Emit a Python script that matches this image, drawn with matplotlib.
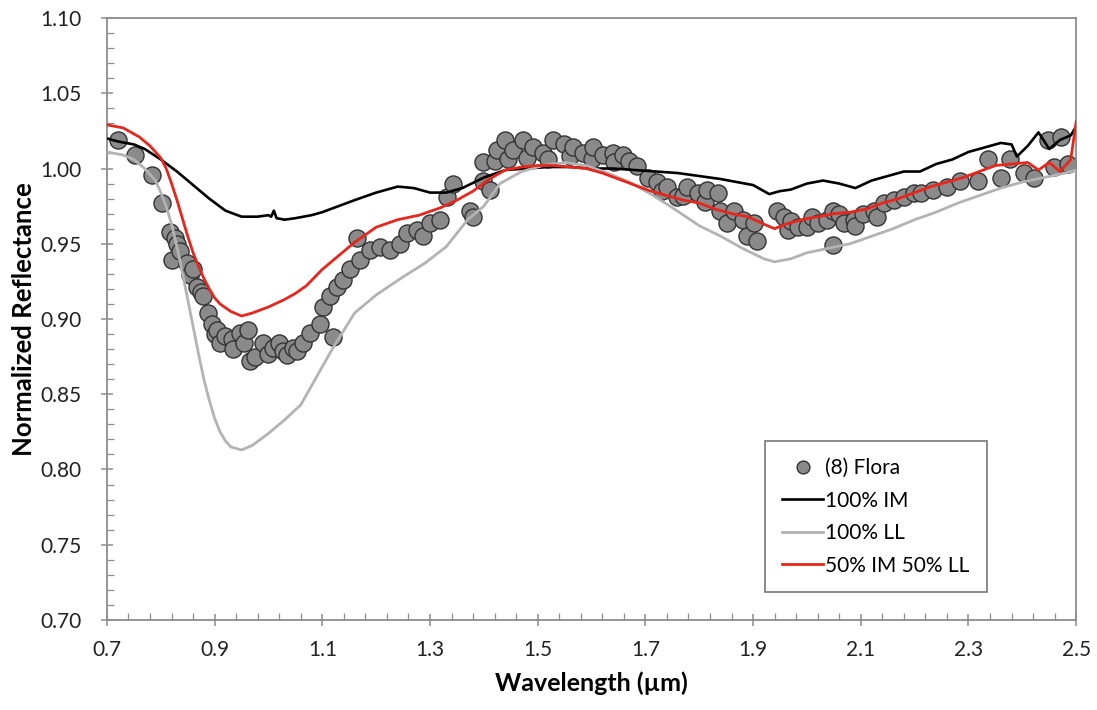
import matplotlib
matplotlib.use('Agg')
import matplotlib.pyplot as plt
from matplotlib.ticker import MultipleLocator, FormatStrFormatter

plt.rcParams['font.family'] = ['Lato', 'DejaVu Sans']

# (8) Flora spectrum, sampled points
flora_wl = [0.720, 0.752, 0.784, 0.802, 0.817, 0.826, 0.821, 0.830, 0.836, 0.849,
            0.854, 0.860, 0.867, 0.875, 0.878, 0.888, 0.895, 0.900, 0.904, 0.910,
            0.919, 0.932, 0.935, 0.947, 0.955, 0.962, 0.965, 0.975, 0.990, 1.000,
            1.009, 1.020, 1.027, 1.035, 1.046, 1.053, 1.065, 1.077, 1.096, 1.120,
            1.101, 1.114, 1.127, 1.138, 1.152, 1.165, 1.170, 1.189, 1.207, 1.226,
            1.245, 1.258, 1.276, 1.287, 1.300, 1.319, 1.332, 1.343, 1.375, 1.380,
            1.399, 1.399, 1.412, 1.420, 1.425, 1.440, 1.445, 1.455, 1.473, 1.480,
            1.492, 1.510, 1.520, 1.529, 1.548, 1.560, 1.566, 1.585, 1.600, 1.603,
            1.622, 1.640, 1.641, 1.659, 1.670, 1.685, 1.704, 1.722, 1.730, 1.741,
            1.759, 1.770, 1.778, 1.797, 1.810, 1.815, 1.834, 1.839, 1.852, 1.864,
            1.882, 1.889, 1.901, 1.908, 1.945, 1.957, 1.964, 1.970, 1.983, 2.001,
            2.010, 2.020, 2.038, 2.049, 2.049, 2.060, 2.068, 2.087, 2.090, 2.105,
            2.124, 2.130, 2.143, 2.161, 2.180, 2.198, 2.211, 2.235, 2.261, 2.285,
            2.317, 2.336, 2.360, 2.378, 2.403, 2.421, 2.447, 2.458, 2.471, 2.484]
flora_refl = [1.019, 1.009, 0.996, 0.977, 0.958, 0.954, 0.939, 0.950, 0.945, 0.937,
              0.929, 0.933, 0.921, 0.918, 0.915, 0.904, 0.897, 0.890, 0.893, 0.884,
              0.889, 0.887, 0.880, 0.891, 0.884, 0.893, 0.872, 0.875, 0.884, 0.877,
              0.881, 0.884, 0.879, 0.876, 0.881, 0.879, 0.884, 0.891, 0.897, 0.888,
              0.908, 0.915, 0.921, 0.926, 0.933, 0.954, 0.939, 0.946, 0.948, 0.946,
              0.950, 0.957, 0.959, 0.955, 0.964, 0.966, 0.981, 0.990, 0.972, 0.968,
              1.004, 0.992, 0.986, 1.005, 1.012, 1.019, 1.006, 1.012, 1.019, 1.007,
              1.014, 1.010, 1.006, 1.019, 1.016, 1.008, 1.014, 1.010, 1.006, 1.014,
              1.009, 1.010, 1.004, 1.009, 1.005, 1.002, 0.994, 0.991, 0.985, 0.988,
              0.981, 0.982, 0.988, 0.984, 0.978, 0.986, 0.984, 0.972, 0.964, 0.972,
              0.966, 0.955, 0.964, 0.952, 0.972, 0.968, 0.959, 0.965, 0.961, 0.961,
              0.968, 0.964, 0.966, 0.972, 0.949, 0.970, 0.964, 0.966, 0.962, 0.970,
              0.972, 0.968, 0.977, 0.979, 0.981, 0.984, 0.984, 0.986, 0.988, 0.992,
              0.992, 1.006, 0.994, 1.006, 0.997, 0.994, 1.019, 1.001, 1.021, 1.003]

# 100% IM
im_wl = [0.70, 0.72, 0.75, 0.77, 0.80, 0.83, 0.86, 0.89, 0.92, 0.95, 0.98, 1.00,
         1.005, 1.01, 1.015, 1.03, 1.05, 1.08, 1.10, 1.13, 1.16, 1.20, 1.24, 1.27,
         1.30, 1.33, 1.36, 1.40, 1.44, 1.48, 1.52, 1.56, 1.60, 1.64, 1.68, 1.72,
         1.76, 1.80, 1.84, 1.87, 1.90, 1.93, 1.95, 1.97, 2.00, 2.03, 2.06, 2.09,
         2.12, 2.15, 2.18, 2.21, 2.24, 2.27, 2.30, 2.33, 2.36, 2.38, 2.39, 2.41,
         2.43, 2.45, 2.47, 2.49, 2.50]
im_refl = [1.020, 1.018, 1.016, 1.013, 1.006, 0.998, 0.989, 0.980, 0.972, 0.968,
           0.968, 0.969, 0.968, 0.972, 0.967, 0.966, 0.967, 0.969, 0.971, 0.975,
           0.979, 0.984, 0.988, 0.987, 0.984, 0.984, 0.987, 0.994, 0.999, 1.000,
           1.001, 1.001, 1.000, 1.000, 0.999, 0.998, 0.997, 0.995, 0.993, 0.991,
           0.989, 0.983, 0.985, 0.986, 0.990, 0.992, 0.990, 0.987, 0.992, 0.995,
           0.998, 0.998, 1.003, 1.006, 1.011, 1.014, 1.017, 1.016, 1.008, 1.015,
           1.024, 1.013, 1.019, 1.022, 1.028]

# 100% LL
ll_wl = [0.70, 0.73, 0.75, 0.77, 0.79, 0.80, 0.81, 0.82, 0.83, 0.84, 0.85, 0.86,
         0.87, 0.88, 0.89, 0.90, 0.91, 0.92, 0.93, 0.95, 0.97, 1.00, 1.03, 1.06,
         1.09, 1.12, 1.16, 1.20, 1.25, 1.29, 1.33, 1.37, 1.40, 1.43, 1.47, 1.51,
         1.55, 1.59, 1.63, 1.67, 1.71, 1.75, 1.80, 1.84, 1.88, 1.92, 1.94, 1.97,
         2.00, 2.04, 2.08, 2.12, 2.16, 2.20, 2.24, 2.28, 2.32, 2.36, 2.40, 2.44,
         2.48, 2.50]
ll_refl = [1.011, 1.009, 1.006, 1.000, 0.992, 0.984, 0.975, 0.963, 0.948, 0.931,
           0.913, 0.895, 0.877, 0.860, 0.846, 0.834, 0.825, 0.819, 0.815, 0.813,
           0.816, 0.824, 0.833, 0.843, 0.862, 0.881, 0.904, 0.916, 0.928, 0.937,
           0.948, 0.966, 0.975, 0.990, 0.998, 1.002, 1.004, 1.002, 0.997, 0.991,
           0.983, 0.974, 0.962, 0.955, 0.947, 0.940, 0.938, 0.940, 0.944, 0.947,
           0.950, 0.955, 0.960, 0.966, 0.971, 0.977, 0.982, 0.987, 0.991, 0.994,
           0.997, 0.999]

# 50% IM 50% LL
mix_wl = [0.70, 0.73, 0.76, 0.78, 0.80, 0.81, 0.82, 0.83, 0.84, 0.85, 0.86, 0.87,
          0.88, 0.89, 0.90, 0.91, 0.93, 0.95, 0.97, 1.00, 1.03, 1.05, 1.07, 1.10,
          1.13, 1.16, 1.20, 1.24, 1.28, 1.32, 1.35, 1.38, 1.41, 1.44, 1.47, 1.50,
          1.53, 1.56, 1.59, 1.62, 1.65, 1.68, 1.71, 1.74, 1.77, 1.80, 1.83, 1.86,
          1.89, 1.92, 1.94, 1.96, 1.99, 2.02, 2.05, 2.08, 2.11, 2.14, 2.17, 2.20,
          2.23, 2.26, 2.29, 2.32, 2.35, 2.38, 2.41, 2.43, 2.45, 2.47, 2.49, 2.50]
mix_refl = [1.029, 1.027, 1.021, 1.015, 1.007, 1.000, 0.990, 0.979, 0.967, 0.955,
            0.944, 0.935, 0.927, 0.920, 0.914, 0.910, 0.905, 0.902, 0.904, 0.908,
            0.913, 0.917, 0.922, 0.933, 0.942, 0.951, 0.961, 0.966, 0.969, 0.974,
            0.979, 0.985, 0.993, 0.999, 1.001, 1.002, 1.002, 1.001, 1.000, 0.997,
            0.993, 0.989, 0.985, 0.982, 0.979, 0.977, 0.973, 0.970, 0.968, 0.963,
            0.960, 0.963, 0.966, 0.968, 0.970, 0.971, 0.973, 0.977, 0.980, 0.984,
            0.988, 0.991, 0.994, 0.998, 1.002, 1.003, 1.004, 0.999, 1.004, 0.998,
            1.006, 1.031]

fig = plt.figure(figsize=(10.97, 7.10), dpi=100)
ax = fig.add_axes([0.0975, 0.1268, 0.8835, 0.8478])

ax.plot(flora_wl, flora_refl, 'o', ms=12.3, mfc='#8a8a8a', mec='#333333',
        mew=1.0, label='(8) Flora', zorder=2)
ax.plot(im_wl, im_refl, color='black', lw=1.9, label='100% IM', zorder=3)
ax.plot(ll_wl, ll_refl, color='#b3b3b3', lw=2.0, label='100% LL', zorder=3)
ax.plot(mix_wl, mix_refl, color='#e8261c', lw=2.0, label='50% IM 50% LL', zorder=4)

ax.set_xlim(0.7, 2.5)
ax.set_ylim(0.70, 1.10)
ax.xaxis.set_major_locator(MultipleLocator(0.2, offset=0.1))
ax.xaxis.set_minor_locator(MultipleLocator(0.04, offset=0.02))
ax.yaxis.set_major_locator(MultipleLocator(0.05))
ax.yaxis.set_minor_locator(MultipleLocator(0.01))
ax.xaxis.set_major_formatter(FormatStrFormatter('%.1f'))
ax.yaxis.set_major_formatter(FormatStrFormatter('%.2f'))

for s in ax.spines.values():
    s.set_color('#8c8c8c')
    s.set_linewidth(1.3)
ax.tick_params(which='major', direction='inout', length=9, width=1.1,
               color='#8c8c8c', labelsize=15, labelcolor='#222222')
ax.tick_params(axis='x', which='major', pad=10)
ax.tick_params(axis='y', which='major', pad=14)
ax.tick_params(which='minor', direction='in', length=5, width=0.9, color='#8c8c8c')

ax.set_xlabel('Wavelength (µm)', fontsize=18, fontweight='bold', labelpad=8)
ax.set_ylabel('Normalized Reflectance', fontsize=18.5, fontweight='bold', labelpad=3)

leg = ax.legend(loc='lower left', bbox_to_anchor=(0.679, 0.046), fontsize=15,
                frameon=True, fancybox=False, edgecolor='#555555',
                handlelength=2.0, handletextpad=0.1, borderpad=0.8,
                labelspacing=0.6, borderaxespad=0, markerscale=0.75)
leg.get_frame().set_linewidth(1.2)

fig.savefig('out.png', dpi=100)
